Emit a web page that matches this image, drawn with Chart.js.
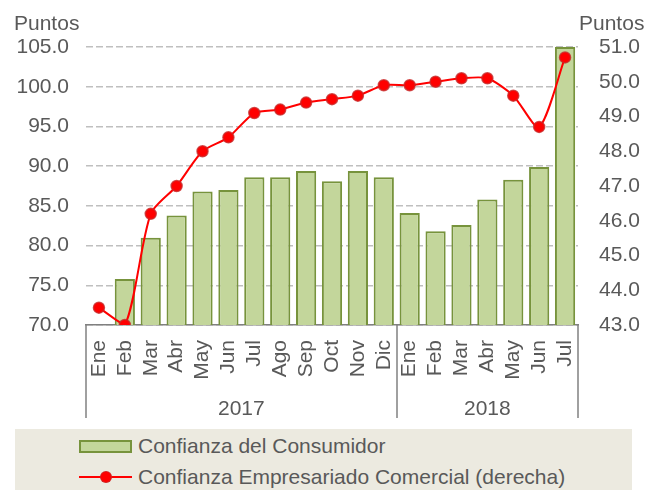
<!DOCTYPE html>
<html>
<head>
<meta charset="utf-8">
<script src="https://cdn.jsdelivr.net/npm/chart.js@4/dist/chart.umd.min.js"></script>
<style>
  body { margin: 0; background: #fff; }
  #wrap { position: relative; width: 646px; height: 490px; overflow: hidden; }
  #chart { position: absolute; left: 0; top: 0; }
  #legend {
    position: absolute; left: 15px; top: 429px; width: 617px; height: 61px;
    background: #ECEAE0; font-family: "Liberation Sans", Arial, sans-serif;
    font-size: 21px; color: #595959;
  }
  .row { position: absolute; left: 64px; display: flex; align-items: center; white-space: nowrap; }
  .sym { width: 53px; height: 13px; margin-right: 6px; position: relative; box-sizing: border-box; }
  .bar { background: #C3D69B; border: 2px solid #77933C; }
  .line::before { content: ""; position: absolute; left: 0; right: 0; top: 5px; height: 2px; background: #FF0000; }
  .line::after { content: ""; position: absolute; left: 21px; top: 0px; width: 12px; height: 12px; border-radius: 50%;
    background: #FF0000; box-sizing: border-box; border: 1.5px solid rgba(200, 40, 40, 0.8); }
</style>
</head>
<body>
<div id="wrap">
  <canvas id="chart" width="646" height="428"></canvas>
  <div id="legend">
    <div class="row" style="top: 5px;"><span class="sym bar"></span><span>Confianza del Consumidor</span></div>
    <div class="row" style="top: 36px;"><span class="sym line"></span><span>Confianza Empresariado Comercial (derecha)</span></div>
  </div>
</div>
<script>
const months = ['Ene', 'Feb', 'Mar', 'Abr', 'May', 'Jun', 'Jul', 'Ago', 'Sep', 'Oct', 'Nov', 'Dic',
  'Ene', 'Feb', 'Mar', 'Abr', 'May', 'Jun', 'Jul'];
const years = ['2017', '2018'];
const yearSpans = [12, 7];

// Confianza del Consumidor (eje izquierdo)
const consumidor = [null, 75.8, 81.0, 83.8, 86.8, 87.0, 88.6, 88.6, 89.4, 88.1, 89.4, 88.6,
  84.1, 81.8, 82.6, 85.8, 88.3, 89.9, 105.0];
// Confianza Empresariado Comercial (eje derecho)
const empresariado = [43.5, 43.0, 46.2, 47.0, 48.0, 48.4, 49.1, 49.2, 49.4, 49.5, 49.6, 49.9,
  49.9, 50.0, 50.1, 50.1, 49.6, 48.7, 50.7];

const leftTicks = [70, 75, 80, 85, 90, 95, 100, 105];
const rightTicks = [43, 44, 45, 46, 47, 48, 49, 50, 51];

const FONT = '"Liberation Sans", Arial, sans-serif';
const GREY = '#595959';

const groupAxis = {
  id: 'groupAxis',
  afterDraw(chart) {
    const { ctx, chartArea } = chart;
    const x = chart.scales.x;
    const step = x.width / months.length;
    ctx.save();
    ctx.strokeStyle = '#808080';
    ctx.lineWidth = 1.5;
    let start = 0;
    const edges = [0];
    yearSpans.forEach(n => { start += n; edges.push(start); });
    edges.forEach(i => {
      const px = Math.round(x.getPixelForValue(i) - step / 2);
      ctx.beginPath();
      ctx.moveTo(px, chartArea.bottom);
      ctx.lineTo(px, 418);
      ctx.stroke();
    });
    ctx.fillStyle = GREY;
    ctx.font = '21px ' + FONT;
    ctx.textAlign = 'center';
    ctx.textBaseline = 'middle';
    years.forEach((yr, k) => {
      const a = x.getPixelForValue(edges[k]) - step / 2;
      const b = x.getPixelForValue(edges[k + 1]) - step / 2;
      ctx.fillText(yr, (a + b) / 2, 409);
    });
    ctx.textAlign = 'left';
    ctx.fillText('Puntos', 14, 24);
    ctx.fillText('Puntos', 579, 24);
    ctx.restore();
  }
};

new Chart(document.getElementById('chart'), {
  data: {
    labels: months,
    datasets: [
      {
        type: 'line',
        label: 'Confianza Empresariado Comercial (derecha)',
        data: empresariado,
        yAxisID: 'y1',
        borderColor: '#FF0000',
        borderWidth: 2,
        tension: 0.25,
        pointRadius: 5.5,
        pointBackgroundColor: '#FF0000',
        pointBorderColor: 'rgba(200, 40, 40, 0.8)',
        pointBorderWidth: 1.5,
        order: 0
      },
      {
        type: 'bar',
        label: 'Confianza del Consumidor',
        data: consumidor,
        yAxisID: 'y',
        backgroundColor: '#C3D69B',
        borderColor: '#77933C',
        borderWidth: 2,
        categoryPercentage: 1,
        barPercentage: 0.78,
        order: 1
      }
    ]
  },
  options: {
    responsive: false,
    animation: false,
    layout: { padding: { top: 47, left: 0, right: 0, bottom: 0 } },
    plugins: {
      legend: { display: false },
      tooltip: { enabled: false }
    },
    scales: {
      x: {
        grid: { display: false, drawTicks: false },
        border: { display: true, color: '#808080', width: 1.5 },
        ticks: {
          color: GREY,
          font: { family: FONT, size: 21 },
          minRotation: 90,
          maxRotation: 90,
          autoSkip: false,
          padding: 15
        },
        afterFit(scale) { scale.height = 103; }
      },
      y: {
        position: 'left',
        min: leftTicks[0],
        max: leftTicks[leftTicks.length - 1],
        afterBuildTicks(scale) { scale.ticks = leftTicks.map(v => ({ value: v })); },
        grid: { color: '#BFBFBF', lineWidth: 1.5, drawTicks: false },
        border: { display: false, dash: [7, 3] },
        ticks: {
          color: GREY,
          font: { family: FONT, size: 21 },
          padding: 17,
          callback: v => v.toFixed(1)
        },
        afterFit(scale) { scale.width = 86; }
      },
      y1: {
        position: 'right',
        min: rightTicks[0],
        max: rightTicks[rightTicks.length - 1],
        afterBuildTicks(scale) { scale.ticks = rightTicks.map(v => ({ value: v })); },
        grid: { drawOnChartArea: false, drawTicks: false },
        border: { display: false },
        ticks: {
          color: GREY,
          font: { family: FONT, size: 21 },
          padding: 21,
          callback: v => v.toFixed(1)
        },
        afterFit(scale) { scale.width = 68; }
      }
    }
  },
  plugins: [groupAxis]
});
</script>
</body>
</html>
